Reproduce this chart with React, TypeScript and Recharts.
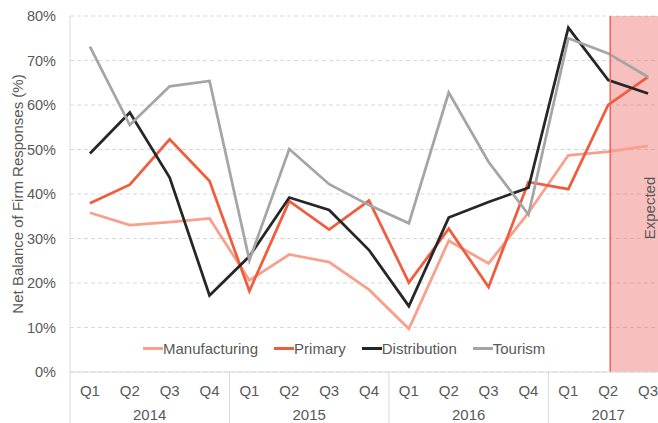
import React from "react";
import {
  LineChart, Line, XAxis, YAxis, CartesianGrid,
  ReferenceArea, ReferenceLine, Legend,
} from "recharts";

const quarters = ["Q1", "Q2", "Q3", "Q4", "Q1", "Q2", "Q3", "Q4", "Q1", "Q2", "Q3", "Q4", "Q1", "Q2", "Q3"];
const years = ["2014", "2014", "2014", "2014", "2015", "2015", "2015", "2015", "2016", "2016", "2016", "2016", "2017", "2017", "2017"];

const manufacturing = [35.8, 33.0, 33.7, 34.5, 20.6, 26.4, 24.7, 18.5, 9.7, 29.5, 24.4, 35.8, 48.7, 49.5, 50.8];
const primary = [37.9, 42.1, 52.3, 42.9, 18.2, 38.4, 32.0, 38.5, 20.1, 32.2, 19.1, 42.7, 41.1, 60.0, 66.3];
const distribution = [49.1, 58.3, 43.7, 17.2, 26.0, 39.2, 36.4, 27.4, 14.8, 34.7, 38.2, 41.4, 77.4, 65.6, 62.6];
const tourism = [73.1, 55.5, 64.2, 65.4, 25.1, 50.1, 42.2, 37.5, 33.4, 62.8, 47.2, 35.4, 75.0, 71.6, 66.3];

const yTicks = [0, 10, 20, 30, 40, 50, 60, 70, 80];
const expectedFrom = 13.05;

const series = [
  { key: "manufacturing", name: "Manufacturing", color: "#F8A08C" },
  { key: "primary", name: "Primary", color: "#F25C3E" },
  { key: "distribution", name: "Distribution", color: "#262626" },
  { key: "tourism", name: "Tourism", color: "#A5A5A5" },
];

const data = quarters.map((q, i) => ({
  i,
  q,
  year: years[i],
  manufacturing: manufacturing[i],
  primary: primary[i],
  distribution: distribution[i],
  tourism: tourism[i],
}));

const FONT = "'Liberation Sans', Arial, sans-serif";
const TEXT = "#595959";
const AXIS = "#D9D9D9";
const FS = 15;

const CHART_W = 668;
const CHART_H = 423;
const Y_W = 70;
const TOP = 16;
const X_H = 51;
const BAND = (CHART_W - Y_W) / quarters.length;

// quarter label + year label + year separator, all from one tick
const QuarterTick = (props: any) => {
  const { x, y, payload } = props;
  const i = payload.value as number;
  const yr = years[i];
  const first = years.indexOf(yr);
  const last = years.lastIndexOf(yr);
  const isFirst = i === first;
  const mid = (first + last) / 2;
  return (
    <g>
      <text x={x} y={y + 24} textAnchor="middle" fill={TEXT} fontSize={FS} fontFamily={FONT}>
        {quarters[i]}
      </text>
      {isFirst && (
        <line x1={x - BAND / 2} x2={x - BAND / 2} y1={y} y2={y + 52} stroke={AXIS} strokeWidth={1} />
      )}
      {isFirst && (
        <text x={x + (mid - first) * BAND} y={y + 48} textAnchor="middle" fill={TEXT} fontSize={FS} fontFamily={FONT}>
          {yr}
        </text>
      )}
    </g>
  );
};

const YLabel = (props: any) => {
  const { viewBox } = props;
  const cy = viewBox.y + viewBox.height / 2;
  return (
    <text
      x={17}
      y={cy}
      transform={`rotate(-90, 17, ${cy})`}
      textAnchor="middle"
      dominantBaseline="central"
      fill={TEXT}
      fontSize={FS}
      fontFamily={FONT}
    >
      Net Balance of Firm Responses (%)
    </text>
  );
};

const ExpectedLabel = (props: any) => {
  const { viewBox } = props;
  const cx = viewBox.x + 39;
  const cy = viewBox.y + viewBox.height / 2 + 14;
  return (
    <text
      x={cx}
      y={cy}
      transform={`rotate(-90, ${cx}, ${cy})`}
      textAnchor="middle"
      dominantBaseline="central"
      fill={TEXT}
      fontSize={FS}
      fontFamily={FONT}
    >
      Expected
    </text>
  );
};

const LegendContent = () => (
  <div style={{ display: "flex", alignItems: "center", fontFamily: FONT, fontSize: FS, color: TEXT, whiteSpace: "nowrap" }}>
    {series.map((s) => (
      <span key={s.key} style={{ display: "flex", alignItems: "center", marginRight: 16 }}>
        <span style={{ display: "inline-block", width: 20, height: 3, background: s.color }} />
        <span>{s.name}</span>
      </span>
    ))}
  </div>
);

export default function App() {
  return (
    <div style={{ position: "absolute", left: 0, top: 0, width: 658, height: 423, overflow: "hidden", background: "#fff" }}>
      <LineChart width={CHART_W} height={CHART_H} data={data} margin={{ top: TOP, right: 0, left: 0, bottom: 0 }}>
        <CartesianGrid vertical={false} stroke={AXIS} strokeDasharray="4 3" />
        <XAxis
          dataKey="i"
          type="number"
          domain={[-0.5, quarters.length - 0.5]}
          ticks={quarters.map((_, i) => i)}
          interval={0}
          height={X_H}
          tickSize={0}
          tickMargin={0}
          tickLine={false}
          axisLine={{ stroke: AXIS }}
          tick={<QuarterTick />}
        />
        <YAxis
          domain={[0, 80]}
          ticks={yTicks}
          width={Y_W}
          tickSize={0}
          tickMargin={14}
          tickLine={false}
          axisLine={{ stroke: AXIS }}
          tickFormatter={(v: number) => `${v}%`}
          tick={{ fill: TEXT, fontSize: 14.5, fontFamily: FONT }}
          label={<YLabel />}
        />
        {series.map((s) => (
          <Line
            key={s.key}
            dataKey={s.key}
            name={s.name}
            stroke={s.color}
            strokeWidth={2.75}
            dot={false}
            activeDot={false}
            type="linear"
            isAnimationActive={false}
          />
        ))}
        <ReferenceArea
          x1={expectedFrom}
          x2={quarters.length - 0.5}
          y1={0}
          y2={80}
          fill="#EE6060"
          fillOpacity={0.4}
          stroke="none"
          ifOverflow="visible"
          label={<ExpectedLabel />}
        />
        <ReferenceLine x={expectedFrom} stroke="#F0605A" strokeWidth={1.5} />
        <Legend
          layout="horizontal"
          verticalAlign="middle"
          content={<LegendContent />}
          wrapperStyle={{ position: "absolute", left: 143, top: 340, width: "auto" }}
        />
      </LineChart>
    </div>
  );
}
